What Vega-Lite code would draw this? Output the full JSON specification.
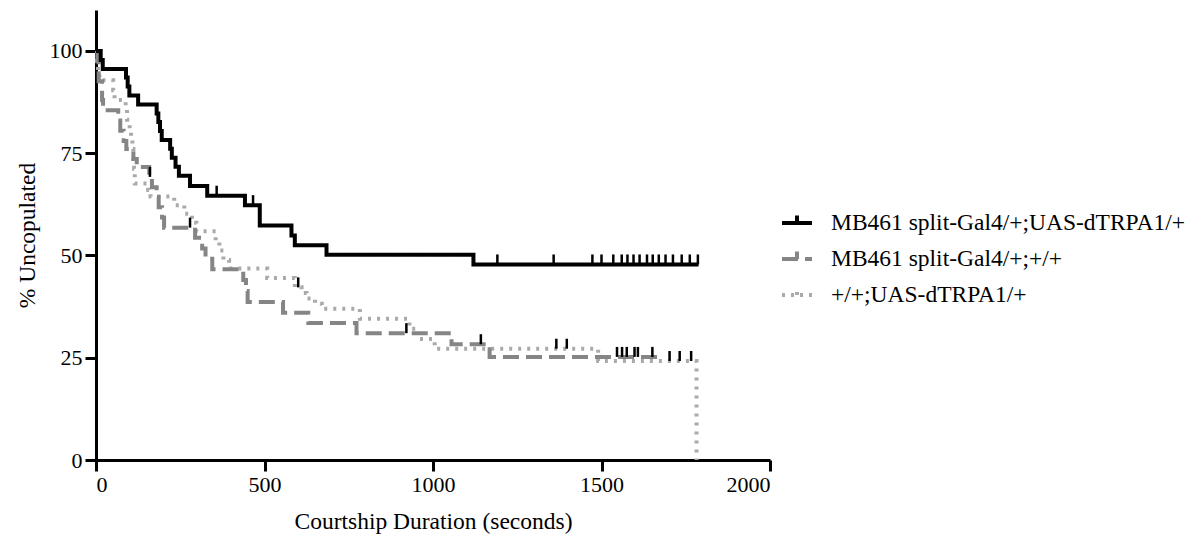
{
  "$schema": "https://vega.github.io/schema/vega-lite/v6.json",
  "width": 674,
  "height": 450,
  "autosize": {"type": "none"},
  "padding": {"left": 96, "top": 10, "right": 433, "bottom": 82},
  "background": "white",
  "config": {
    "view": {"stroke": null},
    "font": "Liberation Serif",
    "axis": {
      "grid": false,
      "domainColor": "black",
      "domainWidth": 3,
      "tickColor": "black",
      "tickWidth": 3,
      "tickSize": 11,
      "labelFont": "Liberation Serif",
      "labelFontSize": 22,
      "labelColor": "black",
      "titleFont": "Liberation Serif",
      "titleFontSize": 23.5,
      "titleFontWeight": "normal",
      "titleColor": "black"
    },
    "legend": {
      "orient": "none",
      "legendX": 684,
      "legendY": 196,
      "symbolType": "M-1,0H1M0,0V-0.5",
      "symbolSize": 900,
      "symbolStrokeWidth": 4,
      "labelFont": "Liberation Serif",
      "labelFontSize": 23.5,
      "labelColor": "black",
      "labelLimit": 0,
      "labelOffset": 17,
      "rowPadding": 7
    }
  },
  "datasets": {
    "curves": [
      {"group": "+/+;UAS-dTRPA1/+", "t": 0, "pct": 100},
      {"group": "+/+;UAS-dTRPA1/+", "t": 3, "pct": 97.6},
      {"group": "+/+;UAS-dTRPA1/+", "t": 6, "pct": 95.2},
      {"group": "+/+;UAS-dTRPA1/+", "t": 10, "pct": 92.8},
      {"group": "+/+;UAS-dTRPA1/+", "t": 51, "pct": 90.4},
      {"group": "+/+;UAS-dTRPA1/+", "t": 55, "pct": 88.0},
      {"group": "+/+;UAS-dTRPA1/+", "t": 88, "pct": 85.6},
      {"group": "+/+;UAS-dTRPA1/+", "t": 92, "pct": 83.2},
      {"group": "+/+;UAS-dTRPA1/+", "t": 100, "pct": 80.8},
      {"group": "+/+;UAS-dTRPA1/+", "t": 104, "pct": 78.4},
      {"group": "+/+;UAS-dTRPA1/+", "t": 108, "pct": 76.0},
      {"group": "+/+;UAS-dTRPA1/+", "t": 111, "pct": 73.6},
      {"group": "+/+;UAS-dTRPA1/+", "t": 113, "pct": 71.2},
      {"group": "+/+;UAS-dTRPA1/+", "t": 115, "pct": 67.6},
      {"group": "+/+;UAS-dTRPA1/+", "t": 155, "pct": 66.0},
      {"group": "+/+;UAS-dTRPA1/+", "t": 162, "pct": 64.4},
      {"group": "+/+;UAS-dTRPA1/+", "t": 232, "pct": 62.3},
      {"group": "+/+;UAS-dTRPA1/+", "t": 262, "pct": 60.2},
      {"group": "+/+;UAS-dTRPA1/+", "t": 285, "pct": 58.0},
      {"group": "+/+;UAS-dTRPA1/+", "t": 298, "pct": 55.9},
      {"group": "+/+;UAS-dTRPA1/+", "t": 355, "pct": 53.5},
      {"group": "+/+;UAS-dTRPA1/+", "t": 366, "pct": 51.2},
      {"group": "+/+;UAS-dTRPA1/+", "t": 378, "pct": 48.9},
      {"group": "+/+;UAS-dTRPA1/+", "t": 395, "pct": 46.8},
      {"group": "+/+;UAS-dTRPA1/+", "t": 508, "pct": 44.5},
      {"group": "+/+;UAS-dTRPA1/+", "t": 590, "pct": 42.2},
      {"group": "+/+;UAS-dTRPA1/+", "t": 610, "pct": 40.8},
      {"group": "+/+;UAS-dTRPA1/+", "t": 625, "pct": 39.5},
      {"group": "+/+;UAS-dTRPA1/+", "t": 650, "pct": 38.2},
      {"group": "+/+;UAS-dTRPA1/+", "t": 670, "pct": 37.0},
      {"group": "+/+;UAS-dTRPA1/+", "t": 783, "pct": 34.5},
      {"group": "+/+;UAS-dTRPA1/+", "t": 930, "pct": 32.1},
      {"group": "+/+;UAS-dTRPA1/+", "t": 955, "pct": 29.6},
      {"group": "+/+;UAS-dTRPA1/+", "t": 1005, "pct": 27.2},
      {"group": "+/+;UAS-dTRPA1/+", "t": 1490, "pct": 24.2},
      {"group": "+/+;UAS-dTRPA1/+", "t": 1782, "pct": 0},
      {"group": "MB461 split-Gal4/+;+/+", "t": 0, "pct": 100},
      {"group": "MB461 split-Gal4/+;+/+", "t": 4, "pct": 97.5},
      {"group": "MB461 split-Gal4/+;+/+", "t": 8, "pct": 92.6},
      {"group": "MB461 split-Gal4/+;+/+", "t": 18, "pct": 88.0},
      {"group": "MB461 split-Gal4/+;+/+", "t": 21, "pct": 85.5},
      {"group": "MB461 split-Gal4/+;+/+", "t": 66, "pct": 83.0},
      {"group": "MB461 split-Gal4/+;+/+", "t": 72, "pct": 80.5},
      {"group": "MB461 split-Gal4/+;+/+", "t": 82, "pct": 78.0},
      {"group": "MB461 split-Gal4/+;+/+", "t": 90, "pct": 76.0},
      {"group": "MB461 split-Gal4/+;+/+", "t": 111, "pct": 73.6},
      {"group": "MB461 split-Gal4/+;+/+", "t": 121, "pct": 71.6},
      {"group": "MB461 split-Gal4/+;+/+", "t": 158, "pct": 69.2},
      {"group": "MB461 split-Gal4/+;+/+", "t": 166, "pct": 66.7},
      {"group": "MB461 split-Gal4/+;+/+", "t": 180, "pct": 64.3},
      {"group": "MB461 split-Gal4/+;+/+", "t": 186, "pct": 61.8},
      {"group": "MB461 split-Gal4/+;+/+", "t": 196, "pct": 59.3},
      {"group": "MB461 split-Gal4/+;+/+", "t": 202, "pct": 56.8},
      {"group": "MB461 split-Gal4/+;+/+", "t": 294, "pct": 54.3},
      {"group": "MB461 split-Gal4/+;+/+", "t": 315, "pct": 51.7},
      {"group": "MB461 split-Gal4/+;+/+", "t": 325, "pct": 49.2},
      {"group": "MB461 split-Gal4/+;+/+", "t": 345, "pct": 46.6},
      {"group": "MB461 split-Gal4/+;+/+", "t": 437, "pct": 44.0},
      {"group": "MB461 split-Gal4/+;+/+", "t": 445, "pct": 41.3},
      {"group": "MB461 split-Gal4/+;+/+", "t": 450, "pct": 38.6},
      {"group": "MB461 split-Gal4/+;+/+", "t": 555, "pct": 36.0},
      {"group": "MB461 split-Gal4/+;+/+", "t": 630, "pct": 33.5},
      {"group": "MB461 split-Gal4/+;+/+", "t": 773, "pct": 31.0},
      {"group": "MB461 split-Gal4/+;+/+", "t": 1055, "pct": 28.3},
      {"group": "MB461 split-Gal4/+;+/+", "t": 1168, "pct": 25.2},
      {"group": "MB461 split-Gal4/+;+/+", "t": 1665, "pct": 25.2},
      {"group": "MB461 split-Gal4/+;UAS-dTRPA1/+", "t": 0, "pct": 100},
      {"group": "MB461 split-Gal4/+;UAS-dTRPA1/+", "t": 14, "pct": 97.8},
      {"group": "MB461 split-Gal4/+;UAS-dTRPA1/+", "t": 20, "pct": 95.6},
      {"group": "MB461 split-Gal4/+;UAS-dTRPA1/+", "t": 89, "pct": 93.5},
      {"group": "MB461 split-Gal4/+;UAS-dTRPA1/+", "t": 94, "pct": 91.3},
      {"group": "MB461 split-Gal4/+;UAS-dTRPA1/+", "t": 99, "pct": 89.1},
      {"group": "MB461 split-Gal4/+;UAS-dTRPA1/+", "t": 125, "pct": 86.9},
      {"group": "MB461 split-Gal4/+;UAS-dTRPA1/+", "t": 180, "pct": 84.7},
      {"group": "MB461 split-Gal4/+;UAS-dTRPA1/+", "t": 185, "pct": 82.6},
      {"group": "MB461 split-Gal4/+;UAS-dTRPA1/+", "t": 190, "pct": 80.4},
      {"group": "MB461 split-Gal4/+;UAS-dTRPA1/+", "t": 195, "pct": 78.2},
      {"group": "MB461 split-Gal4/+;UAS-dTRPA1/+", "t": 220, "pct": 76.1},
      {"group": "MB461 split-Gal4/+;UAS-dTRPA1/+", "t": 225, "pct": 73.9},
      {"group": "MB461 split-Gal4/+;UAS-dTRPA1/+", "t": 236, "pct": 71.7},
      {"group": "MB461 split-Gal4/+;UAS-dTRPA1/+", "t": 246, "pct": 69.5},
      {"group": "MB461 split-Gal4/+;UAS-dTRPA1/+", "t": 279, "pct": 67.0},
      {"group": "MB461 split-Gal4/+;UAS-dTRPA1/+", "t": 330, "pct": 64.6},
      {"group": "MB461 split-Gal4/+;UAS-dTRPA1/+", "t": 442, "pct": 62.3},
      {"group": "MB461 split-Gal4/+;UAS-dTRPA1/+", "t": 486, "pct": 57.3},
      {"group": "MB461 split-Gal4/+;UAS-dTRPA1/+", "t": 580, "pct": 54.9},
      {"group": "MB461 split-Gal4/+;UAS-dTRPA1/+", "t": 590, "pct": 52.5},
      {"group": "MB461 split-Gal4/+;UAS-dTRPA1/+", "t": 684, "pct": 50.2},
      {"group": "MB461 split-Gal4/+;UAS-dTRPA1/+", "t": 1120, "pct": 47.8},
      {"group": "MB461 split-Gal4/+;UAS-dTRPA1/+", "t": 1788, "pct": 47.8}
    ],
    "censors": [
      {"group": "MB461 split-Gal4/+;UAS-dTRPA1/+", "t": 358, "pct": 64.6},
      {"group": "MB461 split-Gal4/+;UAS-dTRPA1/+", "t": 466, "pct": 62.3},
      {"group": "MB461 split-Gal4/+;UAS-dTRPA1/+", "t": 1191, "pct": 47.8},
      {"group": "MB461 split-Gal4/+;UAS-dTRPA1/+", "t": 1358, "pct": 47.8},
      {"group": "MB461 split-Gal4/+;UAS-dTRPA1/+", "t": 1473, "pct": 47.8},
      {"group": "MB461 split-Gal4/+;UAS-dTRPA1/+", "t": 1500, "pct": 47.8},
      {"group": "MB461 split-Gal4/+;UAS-dTRPA1/+", "t": 1535, "pct": 47.8},
      {"group": "MB461 split-Gal4/+;UAS-dTRPA1/+", "t": 1560, "pct": 47.8},
      {"group": "MB461 split-Gal4/+;UAS-dTRPA1/+", "t": 1577, "pct": 47.8},
      {"group": "MB461 split-Gal4/+;UAS-dTRPA1/+", "t": 1595, "pct": 47.8},
      {"group": "MB461 split-Gal4/+;UAS-dTRPA1/+", "t": 1613, "pct": 47.8},
      {"group": "MB461 split-Gal4/+;UAS-dTRPA1/+", "t": 1635, "pct": 47.8},
      {"group": "MB461 split-Gal4/+;UAS-dTRPA1/+", "t": 1652, "pct": 47.8},
      {"group": "MB461 split-Gal4/+;UAS-dTRPA1/+", "t": 1670, "pct": 47.8},
      {"group": "MB461 split-Gal4/+;UAS-dTRPA1/+", "t": 1690, "pct": 47.8},
      {"group": "MB461 split-Gal4/+;UAS-dTRPA1/+", "t": 1712, "pct": 47.8},
      {"group": "MB461 split-Gal4/+;UAS-dTRPA1/+", "t": 1738, "pct": 47.8},
      {"group": "MB461 split-Gal4/+;UAS-dTRPA1/+", "t": 1762, "pct": 47.8},
      {"group": "MB461 split-Gal4/+;UAS-dTRPA1/+", "t": 1786, "pct": 47.8},
      {"group": "MB461 split-Gal4/+;+/+", "t": 160, "pct": 69.2},
      {"group": "MB461 split-Gal4/+;+/+", "t": 279, "pct": 56.8},
      {"group": "MB461 split-Gal4/+;+/+", "t": 921, "pct": 31.0},
      {"group": "MB461 split-Gal4/+;+/+", "t": 1142, "pct": 28.3},
      {"group": "MB461 split-Gal4/+;+/+", "t": 1546, "pct": 25.2},
      {"group": "MB461 split-Gal4/+;+/+", "t": 1561, "pct": 25.2},
      {"group": "MB461 split-Gal4/+;+/+", "t": 1575, "pct": 25.2},
      {"group": "MB461 split-Gal4/+;+/+", "t": 1598, "pct": 25.2},
      {"group": "MB461 split-Gal4/+;+/+", "t": 1608, "pct": 25.2},
      {"group": "MB461 split-Gal4/+;+/+", "t": 1651, "pct": 25.2},
      {"group": "+/+;UAS-dTRPA1/+", "t": 600, "pct": 42.2},
      {"group": "+/+;UAS-dTRPA1/+", "t": 1366, "pct": 27.2},
      {"group": "+/+;UAS-dTRPA1/+", "t": 1397, "pct": 27.2},
      {"group": "+/+;UAS-dTRPA1/+", "t": 1702, "pct": 24.2},
      {"group": "+/+;UAS-dTRPA1/+", "t": 1732, "pct": 24.2},
      {"group": "+/+;UAS-dTRPA1/+", "t": 1766, "pct": 24.2}
    ]
  },
  "layer": [
    {
      "data": {"name": "curves"},
      "mark": {"type": "line", "interpolate": "step-after", "strokeWidth": 4},
      "encoding": {
        "x": {
          "field": "t", "type": "quantitative",
          "scale": {"domain": [0, 2000], "nice": false},
          "axis": {"values": [0, 500, 1000, 1500, 2000], "format": "d", "title": "Courtship Duration (seconds)", "labelPadding": 3, "titlePadding": 14}
        },
        "y": {
          "field": "pct", "type": "quantitative",
          "scale": {"domain": [0, 110], "nice": false},
          "axis": {"values": [0, 25, 50, 75, 100], "format": "d", "title": "% Uncopulated", "labelPadding": 3, "titlePadding": 10}
        },
        "color": {
          "field": "group", "type": "nominal",
          "scale": {
            "domain": ["MB461 split-Gal4/+;UAS-dTRPA1/+", "MB461 split-Gal4/+;+/+", "+/+;UAS-dTRPA1/+"],
            "range": ["#000000", "#858585", "#aaaaaa"]
          },
          "legend": {"title": null}
        },
        "strokeDash": {
          "field": "group", "type": "nominal",
          "scale": {
            "domain": ["MB461 split-Gal4/+;UAS-dTRPA1/+", "MB461 split-Gal4/+;+/+", "+/+;UAS-dTRPA1/+"],
            "range": [[1, 0], [16, 7], [3, 6]]
          },
          "legend": {"title": null}
        }
      }
    },
    {
      "data": {"name": "censors"},
      "mark": {"type": "tick", "orient": "vertical", "color": "black", "opacity": 1, "thickness": 2.5, "size": 10, "yOffset": -5},
      "encoding": {
        "x": {"field": "t", "type": "quantitative"},
        "y": {"field": "pct", "type": "quantitative"}
      }
    }
  ]
}
